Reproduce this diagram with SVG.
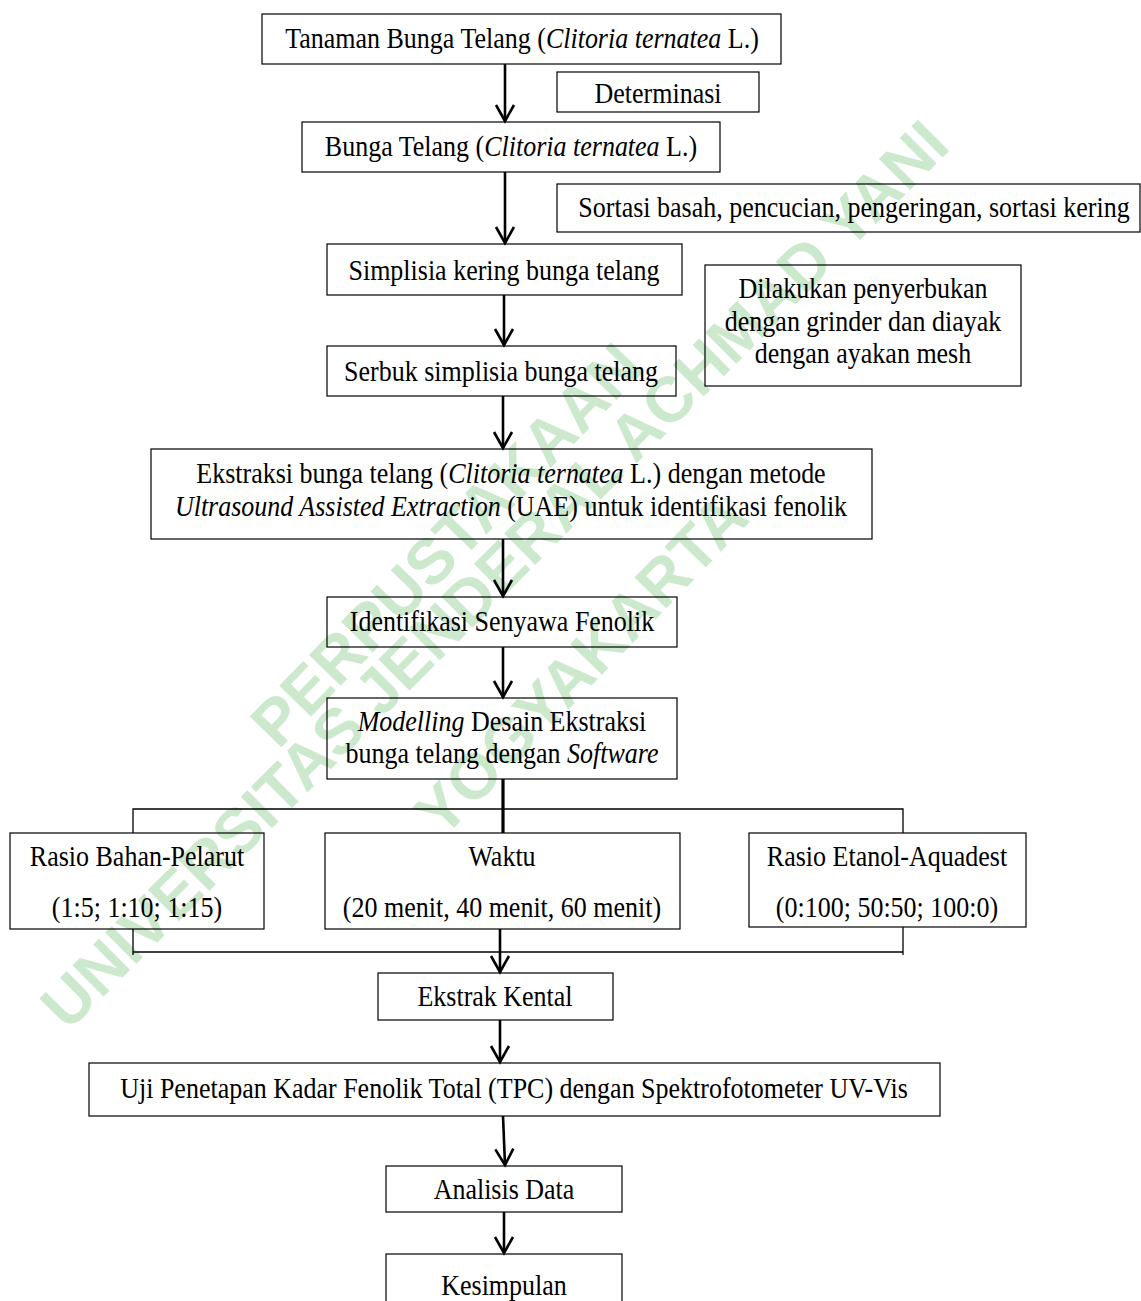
<svg xmlns="http://www.w3.org/2000/svg" width="1141" height="1301" viewBox="0 0 1141 1301">
<style>
.box{fill:none;stroke:#000;stroke-width:1.2}
.t{font-family:"Liberation Serif","Times New Roman",serif;font-size:26px;fill:#000;text-anchor:middle}
.i{font-style:italic}
.ln{fill:none;stroke:#000;stroke-width:1.3}
.ar{fill:none;stroke:#000;stroke-width:2.6}
.wm{font-family:"Liberation Sans",Arial,sans-serif;font-weight:bold;font-size:64px;fill:#cde9cd;text-anchor:middle}
</style>
<defs>
<marker id="ah" markerUnits="userSpaceOnUse" markerWidth="24" markerHeight="24" viewBox="-18 -12 20 24" refX="0" refY="0" orient="auto">
<path d="M-16,-9 L0,0 L-16,9" fill="none" stroke="#000" stroke-width="2.6"/>
</marker>
</defs>
<rect width="1141" height="1301" fill="#fff"/>
<g id="watermark">
<text class="wm" transform="translate(462,560) rotate(-46)">PERPUSTAKAAN</text>
<text class="wm" transform="translate(510,590) rotate(-45)">UNIVERSITAS JENDERAL ACHMAD YANI</text>
<text class="wm" transform="translate(597,680) rotate(-46)">YOGYAKARTA</text>
</g>
<g id="connectors">
<line class="ar" x1="505" y1="64" x2="505" y2="121" marker-end="url(#ah)"/>
<line class="ar" x1="505" y1="172" x2="505" y2="243" marker-end="url(#ah)"/>
<line class="ar" x1="504" y1="295" x2="504" y2="345" marker-end="url(#ah)"/>
<line class="ar" x1="503" y1="396" x2="503" y2="448" marker-end="url(#ah)"/>
<line class="ar" x1="503" y1="539" x2="503" y2="596" marker-end="url(#ah)"/>
<line class="ar" x1="503" y1="647" x2="503" y2="697" marker-end="url(#ah)"/>
<line x1="503" y1="779" x2="503" y2="833" stroke="#000" stroke-width="3.2"/>
<polyline class="ln" points="133,833 133,809 903,809 903,833"/>
<polyline class="ln" points="133,929 133,955"/>
<polyline class="ln" points="133,952 903,952"/>
<polyline class="ln" points="903,927 903,955"/>
<line class="ar" x1="500" y1="929" x2="500" y2="972" marker-end="url(#ah)"/>
<line class="ar" x1="500" y1="1020" x2="500" y2="1062" marker-end="url(#ah)"/>
<line class="ar" x1="503" y1="1116" x2="505" y2="1165" marker-end="url(#ah)"/>
<line class="ar" x1="504" y1="1212" x2="504" y2="1253" marker-end="url(#ah)"/>
</g>
<g id="n1"><rect class="box" x="262" y="14" width="519" height="50"/>
<text class="t" transform="translate(522,48) scale(1,1.17)">Tanaman Bunga Telang (<tspan class="i">Clitoria ternatea</tspan> L.)</text></g>
<g id="n2"><rect class="box" x="557" y="72" width="202" height="40"/>
<text class="t" transform="translate(658,103) scale(1,1.17)">Determinasi</text></g>
<g id="n3"><rect class="box" x="302" y="122" width="418" height="50"/>
<text class="t" transform="translate(511,156) scale(1,1.17)">Bunga Telang (<tspan class="i">Clitoria ternatea</tspan> L.)</text></g>
<g id="n4"><rect class="box" x="557" y="184" width="583" height="48"/>
<text class="t" transform="translate(854,217) scale(1,1.17)">Sortasi basah, pencucian, pengeringan, sortasi kering</text></g>
<g id="n5"><rect class="box" x="327" y="244" width="355" height="51"/>
<text class="t" transform="translate(504,280) scale(1,1.17)">Simplisia kering bunga telang</text></g>
<g id="n6"><rect class="box" x="705" y="265" width="316" height="121"/>
<text class="t" transform="translate(863,298) scale(1,1.17)">Dilakukan penyerbukan</text>
<text class="t" transform="translate(863,331) scale(1,1.17)">dengan grinder dan diayak</text>
<text class="t" transform="translate(863,363) scale(1,1.17)">dengan ayakan mesh</text></g>
<g id="n7"><rect class="box" x="327" y="346" width="349" height="50"/>
<text class="t" transform="translate(501,381) scale(1,1.17)">Serbuk simplisia bunga telang</text></g>
<g id="n8"><rect class="box" x="151" y="449" width="721" height="90"/>
<text class="t" transform="translate(511,483) scale(1,1.17)">Ekstraksi bunga telang (<tspan class="i">Clitoria ternatea</tspan> L.) dengan metode</text>
<text class="t" transform="translate(511,516) scale(1,1.17)"><tspan class="i">Ultrasound Assisted Extraction</tspan> (UAE) untuk identifikasi fenolik</text></g>
<g id="n9"><rect class="box" x="327" y="597" width="350" height="50"/>
<text class="t" transform="translate(502,631) scale(1,1.17)">Identifikasi Senyawa Fenolik</text></g>
<g id="n10"><rect class="box" x="327" y="698" width="350" height="81"/>
<text class="t" transform="translate(502,731) scale(1,1.17)"><tspan class="i">Modelling</tspan> Desain Ekstraksi</text>
<text class="t" transform="translate(502,763) scale(1,1.17)">bunga telang dengan <tspan class="i">Software</tspan></text></g>
<g id="n11"><rect class="box" x="10" y="833" width="254" height="96"/>
<text class="t" transform="translate(137,866) scale(1,1.17)">Rasio Bahan-Pelarut</text>
<text class="t" transform="translate(137,917) scale(1,1.17)">(1:5; 1:10; 1:15)</text></g>
<g id="n12"><rect class="box" x="325" y="833" width="355" height="96"/>
<text class="t" transform="translate(502,866) scale(1,1.17)">Waktu</text>
<text class="t" transform="translate(502,917) scale(1,1.17)">(20 menit, 40 menit, 60 menit)</text></g>
<g id="n13"><rect class="box" x="749" y="833" width="277" height="94"/>
<text class="t" transform="translate(887,866) scale(1,1.17)">Rasio Etanol-Aquadest</text>
<text class="t" transform="translate(887,917) scale(1,1.17)">(0:100; 50:50; 100:0)</text></g>
<g id="n14"><rect class="box" x="378" y="973" width="235" height="47"/>
<text class="t" transform="translate(495,1006) scale(1,1.17)">Ekstrak Kental</text></g>
<g id="n15"><rect class="box" x="89" y="1063" width="851" height="53"/>
<text class="t" transform="translate(514,1098) scale(1,1.17)">Uji Penetapan Kadar Fenolik Total (TPC) dengan Spektrofotometer UV-Vis</text></g>
<g id="n16"><rect class="box" x="386" y="1166" width="236" height="46"/>
<text class="t" transform="translate(504,1199) scale(1,1.17)">Analisis Data</text></g>
<g id="n17"><rect class="box" x="386" y="1254" width="236" height="60"/>
<text class="t" transform="translate(504,1295) scale(1,1.17)">Kesimpulan</text></g>
</svg>
